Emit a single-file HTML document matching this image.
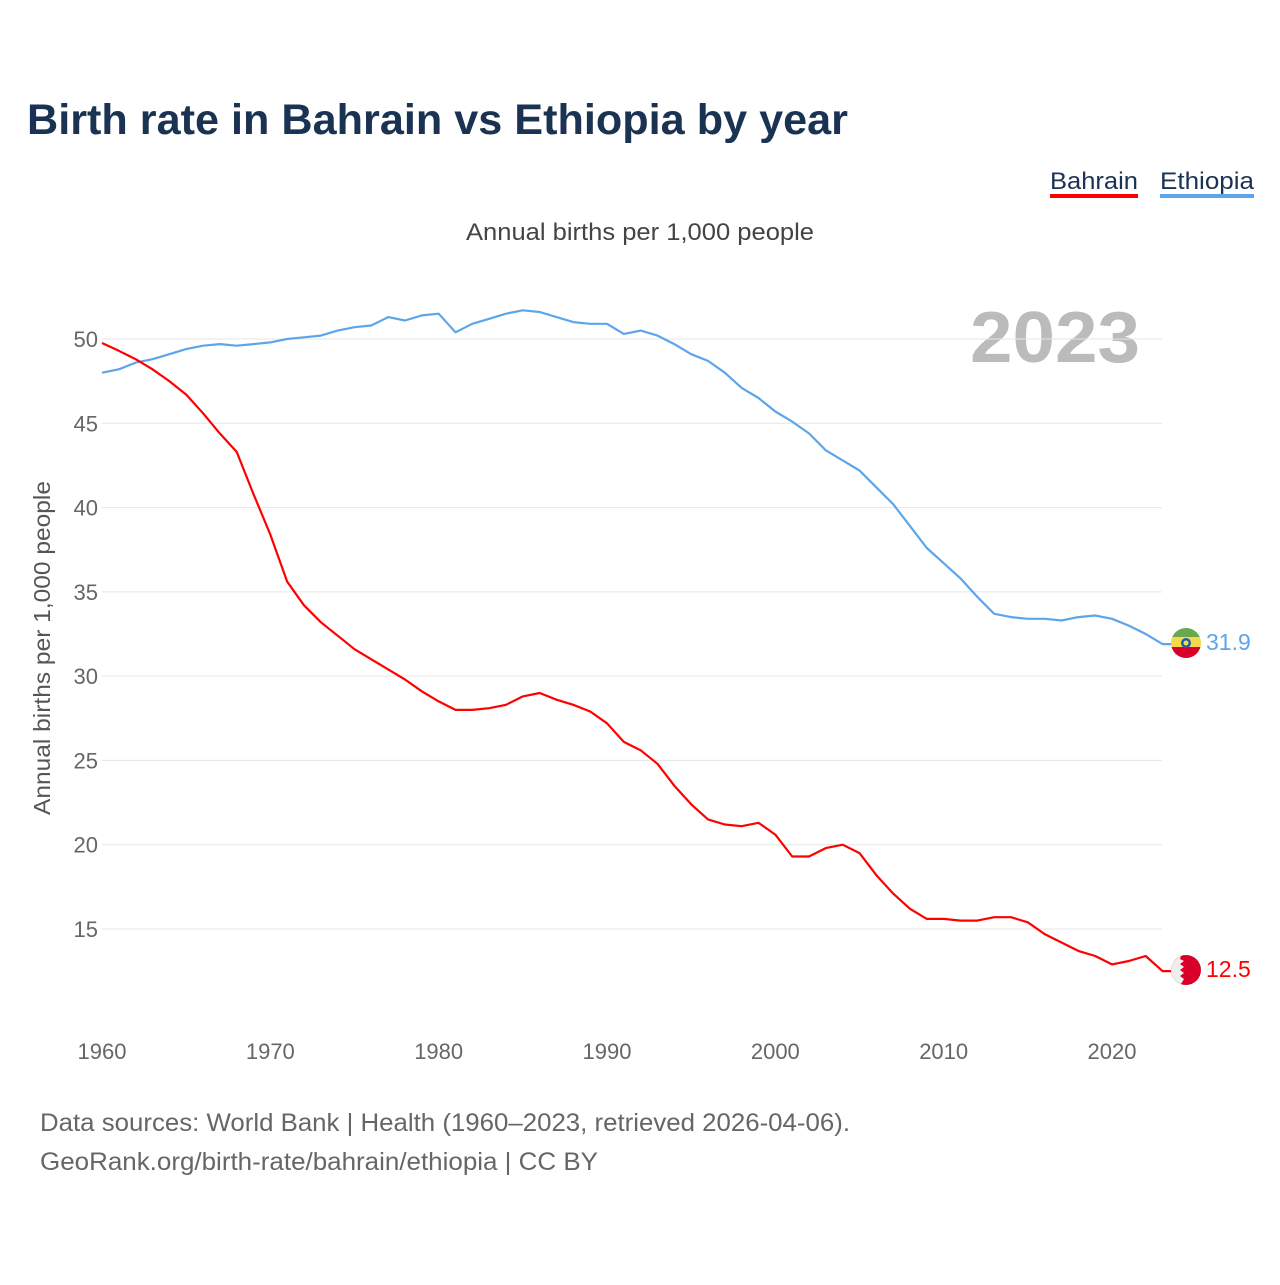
<!DOCTYPE html>
<html><head><meta charset="utf-8"><style>
body{margin:0;background:#fff;width:1280px;height:1280px;overflow:hidden;font-family:"Liberation Sans",sans-serif}
svg text{font-family:"Liberation Sans",sans-serif}
</style></head><body>
<svg id="chart" width="1280" height="1280" xmlns="http://www.w3.org/2000/svg">
<text x="27" y="134" font-size="43" font-weight="bold" fill="#1a3352" textLength="821" lengthAdjust="spacingAndGlyphs">Birth rate in Bahrain vs Ethiopia by year</text>
<g>
<text x="1050" y="189" font-size="24" fill="#1a3352" textLength="88" lengthAdjust="spacingAndGlyphs">Bahrain</text>
<rect x="1050" y="194" width="88" height="4" fill="#ff0000"/>
<text x="1160" y="189" font-size="24" fill="#1a3352" textLength="94" lengthAdjust="spacingAndGlyphs">Ethiopia</text>
<rect x="1160" y="194" width="94" height="4" fill="#5da5ea"/>
</g>
<text x="640" y="240" font-size="24" fill="#444" text-anchor="middle" textLength="348" lengthAdjust="spacingAndGlyphs">Annual births per 1,000 people</text>
<text x="1140" y="362" font-size="72" font-weight="bold" fill="#bbb" text-anchor="end" textLength="170" lengthAdjust="spacingAndGlyphs">2023</text>
<text transform="translate(50,648) rotate(-90)" font-size="23" fill="#555" text-anchor="middle" textLength="334" lengthAdjust="spacingAndGlyphs">Annual births per 1,000 people</text>
<g id="grid"></g><g id="yticks"></g><g id="xticks"></g><g id="lines"></g>
<g>
<clipPath id="ce"><circle cx="1186" cy="643" r="15"/></clipPath>
<g clip-path="url(#ce)"><rect x="1170" y="627" width="32" height="11" fill="#6aa84f"/><rect x="1170" y="637" width="32" height="11" fill="#f6d84a"/><rect x="1170" y="647" width="32" height="12" fill="#d8002a"/></g>
<circle cx="1186" cy="643" r="5" fill="#1f5ea8"/><circle cx="1186" cy="643" r="2.5" fill="#f6d84a"/>
</g>
<g>
<circle cx="1186" cy="970" r="15" fill="#d8002a"/>
<path d="M1171,970 A15,15 0 0,1 1181,956 L1180,959 L1184,961 L1180,964 L1184,967 L1180,970 L1184,973 L1180,976 L1184,979 L1181,984 A15,15 0 0,1 1171,970Z" fill="#eee"/>
</g>
<text x="1206" y="650" font-size="23" fill="#5da5ea">31.9</text>
<text x="1206" y="977" font-size="23" fill="#ff0000">12.5</text>
<text x="40" y="1131" font-size="25" fill="#666" textLength="810" lengthAdjust="spacingAndGlyphs">Data sources: World Bank | Health (1960–2023, retrieved 2026-04-06).</text>
<text x="40" y="1170" font-size="25" fill="#666" textLength="558" lengthAdjust="spacingAndGlyphs">GeoRank.org/birth-rate/bahrain/ethiopia | CC BY</text>
</svg>
<script>
const years=[];for(let y=1960;y<=2023;y++)years.push(y);
const bahrain=[49.76,49.3,48.8,48.2,47.5,46.7,45.6,44.4,43.3,40.8,38.4,35.6,34.2,33.2,32.4,31.6,31.0,30.4,29.8,29.1,28.5,28.0,28.0,28.1,28.3,28.8,29.0,28.6,28.3,27.9,27.2,26.1,25.6,24.8,23.5,22.4,21.5,21.2,21.1,21.3,20.6,19.3,19.3,19.8,20.0,19.5,18.2,17.1,16.2,15.6,15.6,15.5,15.5,15.7,15.7,15.4,14.7,14.2,13.7,13.4,12.9,13.1,13.4,12.5];
const ethiopia=[48.0,48.2,48.6,48.8,49.1,49.4,49.6,49.7,49.6,49.7,49.8,50.0,50.1,50.2,50.5,50.7,50.8,51.3,51.1,51.4,51.5,50.4,50.9,51.2,51.5,51.7,51.6,51.3,51.0,50.9,50.9,50.3,50.5,50.2,49.7,49.1,48.7,48.0,47.1,46.5,45.7,45.1,44.4,43.4,42.8,42.2,41.2,40.2,38.9,37.6,36.7,35.8,34.7,33.7,33.5,33.4,33.4,33.3,33.5,33.6,33.4,33.0,32.5,31.9];
const yTicks=[15,20,25,30,35,40,45,50];
const xTicks=[1960,1970,1980,1990,2000,2010,2020];
const NS="http://www.w3.org/2000/svg";
const xs=y=>102+(y-1960)*(1010/60);
const ys=v=>339-(v-50)*(590/35);
function mk(t,a,p){const e=document.createElementNS(NS,t);for(const k in a)e.setAttribute(k,a[k]);p.appendChild(e);return e;}
const grid=document.getElementById('grid'),yt=document.getElementById('yticks'),xt=document.getElementById('xticks'),ln=document.getElementById('lines');
yTicks.forEach(v=>{
 const l=mk('line',{x1:102,x2:1162,y1:ys(v),y2:ys(v),stroke:'#e6e6e6','stroke-width':1},grid);
 
 
 const t=mk('text',{x:98,y:ys(v)+8,'font-size':22,fill:'#666','text-anchor':'end'},yt);t.textContent=v;
 
 
});
xTicks.forEach(y=>{
 const t=mk('text',{x:xs(y),y:1059,'font-size':22,fill:'#666','text-anchor':'middle'},xt);t.textContent=y;
 
 
});
function line(data,color,name){
 let d=data.map((v,i)=>(i?'L':'M')+xs(years[i]).toFixed(1)+','+ys(v).toFixed(1)).join('');
 d+='L1172,'+ys(data[data.length-1]).toFixed(1);
 const p=mk('path',{d:d,fill:'none',stroke:color,'stroke-width':2.2,'stroke-linejoin':'round'},ln);
 
 
}
line(ethiopia,'#5da5ea','ethiopia-line');
line(bahrain,'#ff0000','bahrain-line');
</script>
</body></html>
